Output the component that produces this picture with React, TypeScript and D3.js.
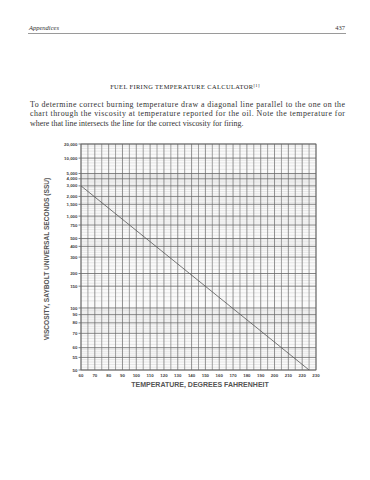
import React from "react";
import * as d3 from "d3";

// chart values
const tempTicks = [60, 70, 80, 90, 100, 110, 120, 130, 140, 150, 160, 170, 180, 190, 200, 210, 220, 230];
const ssuTicks = [50, 55, 60, 70, 80, 90, 100, 150, 200, 300, 400, 500, 750, 1000, 1500, 2000, 3000, 4000, 5000, 10000, 20000];
const ssuMinor = [
  51, 52, 53, 54, 56, 57, 58, 59, 62, 64, 66, 68, 72, 74, 76, 78, 82, 84, 86, 88, 92, 94, 96, 98,
  110, 120, 130, 140, 160, 170, 180, 190, 220, 240, 260, 280, 320, 340, 360, 380, 420, 440, 460, 480,
  550, 600, 650, 700, 800, 850, 900, 950, 1100, 1200, 1300, 1400, 1600, 1700, 1800, 1900,
  2200, 2400, 2600, 2800, 3200, 3400, 3600, 3800, 4200, 4400, 4600, 4800,
  6000, 7000, 8000, 9000, 12000, 14000, 16000, 18000,
];
const lineTemps = [60, 225];
const lineSsu = [3000, 50];

const paragraph = [
  "To determine correct burning temperature draw a diagonal line parallel to the one on the",
  "chart through the viscosity at temperature reported for the oil. Note the temperature for",
  "where that line intersects the line for the correct viscosity for firing.",
];

// ASTM chart: log-log of kinematic viscosity (SSU converted to cSt)
const toCst = (s: number) => (s <= 100 ? 0.226 * s - 195 / s : s / 4.632);
const tr = (s: number) => Math.log10(Math.log10(toCst(s) + 0.7));

const fmt = d3.format(",");

const App = () => {
  const left = 81, right = 316, top = 144, bottom = 370;
  const x = d3.scaleLinear().domain([60, 230]).range([left, right]);
  const yl = d3.scaleLinear().domain([tr(50), tr(20000)]).range([bottom, top]);
  const y = (s: number) => yl(tr(s));

  const vGrid = d3.range(60, 231, 5);
  const pts = lineTemps.map((t, i) => [t, lineSsu[i]] as [number, number]);
  const line = d3.line<[number, number]>().x(d => x(d[0])).y(d => y(d[1]));

  const serif = '"Liberation Serif", "DejaVu Serif", serif';
  const sans = '"Liberation Sans", Arial, sans-serif';

  return (
    <svg width={370} height={480} style={{ position: "absolute", left: 0, top: 0, background: "#fff" }}>
      <rect width={370} height={480} fill="#fff" />
      {/* running header */}
      <text x={29} y={30} fontFamily={serif} fontStyle="italic" fontSize={6.5} fill="#333">Appendices</text>
      <text x={345} y={30} fontFamily={serif} fontSize={6.5} fill="#333" textAnchor="end">437</text>
      <line x1={28} x2={346} y1={33.5} y2={33.5} stroke="#555" strokeWidth={0.6} />

      {/* title */}
      <text x={185} y={89} fontFamily={serif} fontSize={6.4} fill="#222" textAnchor="middle" letterSpacing={0.4}>
        FUEL FIRING TEMPERATURE CALCULATOR
        <tspan fontSize={4.5} dy={-2.5}>[1]</tspan>
      </text>

      {paragraph.map((t, i) => (
        <text key={i} x={30} y={107 + i * 9.4} fontFamily={serif} fontSize={7.9} fill="#333"
          {...(i < 2 ? { textLength: 315, lengthAdjust: "spacing" } : {})}>{t}</text>
      ))}

      {/* grid */}
      <rect x={left} y={top} width={right - left} height={bottom - top} fill="#fafafa" />
      {ssuMinor.map(v => (
        <line key={"m" + v} x1={left} x2={right} y1={y(v)} y2={y(v)} stroke="#d2d2d2" strokeWidth={0.5} />
      ))}
      {vGrid.map(t => (
        <line key={"v" + t} x1={x(t)} x2={x(t)} y1={top} y2={bottom}
          stroke={t % 10 === 0 ? "#777" : "#8a8a8a"} strokeWidth={0.8} />
      ))}
      {ssuTicks.map(v => (
        <line key={"h" + v} x1={left - 2.5} x2={right} y1={y(v)} y2={y(v)} stroke="#666" strokeWidth={0.8} />
      ))}
      <rect x={left} y={top} width={right - left} height={bottom - top} fill="none" stroke="#666" strokeWidth={0.8} />

      {/* y labels */}
      {ssuTicks.map(v => (
        <text key={"yl" + v} x={left - 3.5} y={y(v) + 1.6} fontFamily={sans} fontWeight="bold" fontSize={4.4}
          fill="#444" textAnchor="end">{fmt(v)}</text>
      ))}
      {/* x labels */}
      {tempTicks.map(t => (
        <text key={"xl" + t} x={x(t)} y={bottom + 6.5} fontFamily={sans} fontWeight="bold" fontSize={4.4}
          fill="#444" textAnchor="middle">{t}</text>
      ))}

      <text transform={`translate(49,${(top + bottom) / 2 + 2}) rotate(-90)`} fontFamily={sans} fontWeight="bold"
        fontSize={6.6} fill="#555" textAnchor="middle">VISCOSITY, SAYBOLT UNIVERSAL SECONDS (SSU)</text>
      <text x={200} y={bottom + 17} fontFamily={sans} fontWeight="bold" fontSize={7} fill="#555"
        textAnchor="middle">TEMPERATURE, DEGREES FAHRENHEIT</text>

      {/* diagonal */}
      <path d={line(pts) || ""} fill="none" stroke="#555" strokeWidth={0.8} />
    </svg>
  );
};

export default App;
